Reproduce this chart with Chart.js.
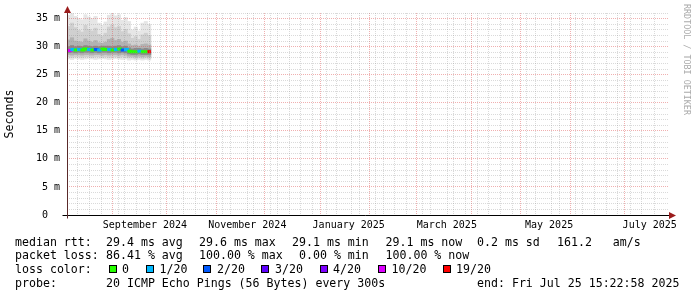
<!DOCTYPE html>
<html>
<head>
<meta charset="utf-8">
<title>smokeping</title>
<script src="https://cdn.jsdelivr.net/npm/chart.js@4.4.1/dist/chart.umd.min.js"></script>
<style>
  body { margin: 0; background: #fff; }
  #wrap { position: relative; width: 697px; height: 297px; overflow: hidden; background: #fff; }
  #graph { position: absolute; left: 0; top: 0; }
  .lg { position: absolute; font: 11.6px "DejaVu Sans Mono", monospace; line-height: 14px; white-space: pre; color: #000; }
  .sw { position: absolute; top: 264.5px; width: 6px; height: 6px; border: 1px solid #000; }
  #wm { position: absolute; left: 682px; top: 4px; writing-mode: vertical-rl; font: 8.4px "DejaVu Sans Mono", monospace; line-height: 9px; color: #aaa; white-space: pre; }
</style>
</head>
<body>
<div id="wrap">
  <canvas id="graph" width="697" height="297"></canvas>

  <div class="lg" style="left:15px;top:234.5px">median rtt:</div>
  <div class="lg" style="left:106px;top:234.5px">29.4 ms avg</div>
  <div class="lg" style="left:199px;top:234.5px">29.6 ms max</div>
  <div class="lg" style="left:292px;top:234.5px">29.1 ms min</div>
  <div class="lg" style="left:385.5px;top:234.5px">29.1 ms now</div>
  <div class="lg" style="left:477px;top:234.5px">0.2 ms sd</div>
  <div class="lg" style="left:557px;top:234.5px">161.2   am/s</div>

  <div class="lg" style="left:15px;top:248px">packet loss:</div>
  <div class="lg" style="left:106px;top:248px">86.41 % avg</div>
  <div class="lg" style="left:199px;top:248px">100.00 % max</div>
  <div class="lg" style="left:299px;top:248px">0.00 % min</div>
  <div class="lg" style="left:385.5px;top:248px">100.00 % now</div>

  <div class="lg" style="left:15px;top:262px">loss color:</div>
  <div id="swatches"></div>

  <div class="lg" style="left:15px;top:276px">probe:</div>
  <div class="lg" style="left:106px;top:276px">20 ICMP Echo Pings (56 Bytes) every 300s</div>
  <div class="lg" style="left:477px;top:276px">end: Fri Jul 25 15:22:58 2025</div>

  <div id="wm">RRDTOOL / TOBI OETIKER</div>
</div>
<script>
// x values are days since 2 Aug 2024; each bin covers 2 days
const binDays = [1, 3, 5, 7, 9, 11, 13, 15, 17, 19, 21, 23, 25, 27, 29, 31, 33, 35, 37, 39, 41, 43, 45, 47, 49];

// smoke bands [low, high] in ms, lightest (outer) to darkest (core)
const smokeOuter = [[27.8,35.6],[27.7,35.9],[27.9,35.4],[27.8,35.0],[27.7,34.8],[27.8,35.7],[27.9,35.3],[27.8,35.0],[27.7,35.4],[27.8,34.2],[27.9,33.8],[27.8,34.4],[27.7,35.6],[27.8,35.9],[27.9,35.5],[27.8,35.7],[27.7,34.7],[27.8,35.2],[27.6,34.5],[27.7,33.0],[27.6,33.5],[27.7,32.8],[27.6,34.2],[27.7,34.5],[27.6,34.0]];
const smokeMid = [[28.2,33.6],[28.1,34.2],[28.2,33.4],[28.2,32.9],[28.1,32.6],[28.2,33.8],[28.2,33.1],[28.1,32.8],[28.2,33.3],[28.2,32.2],[28.1,31.9],[28.2,32.4],[28.1,33.5],[28.2,33.9],[28.2,33.4],[28.1,33.6],[28.2,32.7],[28.1,33.1],[28.0,32.3],[28.0,31.5],[27.9,31.8],[28.0,31.3],[27.9,32.1],[28.0,32.4],[27.9,32.0]];
const smokeInner = [[28.6,31.2],[28.5,31.6],[28.6,31.0],[28.6,30.9],[28.5,30.8],[28.6,31.4],[28.6,31.0],[28.5,30.8],[28.6,31.1],[28.6,30.7],[28.5,30.6],[28.6,30.8],[28.5,31.3],[28.6,31.5],[28.6,31.1],[28.5,31.3],[28.6,30.8],[28.5,31.0],[28.3,30.5],[28.3,30.2],[28.2,30.3],[28.3,30.1],[28.2,30.4],[28.3,30.5],[28.2,30.3]];
const smokeCore = [[28.9,30.0],[29.0,30.2],[28.9,30.0],[29.0,30.1],[28.9,30.0],[29.0,30.2],[29.0,30.1],[28.9,30.0],[29.0,30.1],[28.9,30.0],[29.0,30.1],[29.0,30.1],[28.9,30.1],[29.0,30.0],[29.0,30.1],[28.9,30.2],[29.0,30.0],[28.9,30.1],[28.7,29.8],[28.6,29.6],[28.6,29.7],[28.7,29.7],[28.6,29.6],[28.6,29.7],[28.6,29.6]];

const medianRtt = [29.3, 29.5, 29.4, 29.5, 29.4, 29.6, 29.5, 29.4, 29.5, 29.4, 29.6, 29.5, 29.5, 29.4, 29.5, 29.6, 29.4, 29.5, 29.2, 29.1, 29.1, 29.2, 29.1, 29.1, 29.1];
const lossCount = [10, 1, 0, 1, 0, 0, 1, 0, 2, 1, 0, 0, 1, 0, 1, 0, 2, 1, 0, 0, 0, 1, 0, 0, 19];

const lossLabels = ['0', '1/20', '2/20', '3/20', '4/20', '10/20', '19/20'];
const lossColors = ['#26ff00', '#00b8ff', '#0059ff', '#5e00ff', '#7e00ff', '#dd00ff', '#ff0000'];

const monthStarts = [30, 60, 91, 121, 152, 183, 211, 242, 272, 303, 333];
const labelDays = [46.5, 107.5, 168, 226.5, 287.5, 347.5];
const labelNames = ['September 2024', 'November 2024', 'January 2025', 'March 2025', 'May 2025', 'July 2025'];

const FONT = 'DejaVu Sans Mono';

// legend swatches
const swatchX = [108.5, 145.5, 203, 261, 319.5, 378, 442.5];
const lblX = [122, 159.5, 217, 275, 333, 391.5, 456];
const sw = document.getElementById('swatches');
lossLabels.forEach((l, i) => {
  const b = document.createElement('div');
  b.className = 'sw';
  b.style.left = swatchX[i] + 'px';
  b.style.background = lossColors[i];
  sw.appendChild(b);
  const t = document.createElement('div');
  t.className = 'lg';
  t.style.left = lblX[i] + 'px';
  t.style.top = '262px';
  t.textContent = l;
  sw.appendChild(t);
});

function lossColor(n) {
  if (n >= 19) return lossColors[6];
  if (n >= 10) return lossColors[5];
  if (n >= 4) return lossColors[4];
  return lossColors[n];
}

const band = (arr) => arr.map((v, i) => ({ x: binDays[i], y: v }));

const medianPts = medianRtt.map((v, i) => ({ x: binDays[i] - 1, y: v }));
medianPts.push({ x: binDays[binDays.length - 1] + 1, y: medianRtt[medianRtt.length - 1] });

const labelMap = new Map(labelDays.map((d, i) => [d, labelNames[i]]));
const monthSet = new Set(monthStarts);

const MINOR = 'rgba(143,143,143,0.33)';
const MAJOR = 'rgba(222,80,80,0.45)';
const NONE = 'rgba(0,0,0,0)';

const xGridColor = c => {
  if (!c.tick) return NONE;
  const v = c.tick.value;
  if (labelMap.has(v)) return NONE;
  return monthSet.has(v) ? MAJOR : MINOR;
};
const yGridColor = c => {
  if (!c.tick || c.tick.value === 0) return NONE;
  return c.tick.value % 5 === 0 ? MAJOR : MINOR;
};

const axisArrows = {
  id: 'axisArrows',
  afterDraw(chart) {
    const { ctx, chartArea: a } = chart;
    const x0 = Math.round(a.left) + 0.5, y0 = Math.round(a.bottom) + 0.5;
    ctx.save();
    ctx.lineWidth = 1;
    ctx.strokeStyle = '#000';
    ctx.beginPath();
    ctx.moveTo(x0 - 5, y0); ctx.lineTo(a.right, y0);
    ctx.stroke();
    ctx.strokeStyle = '#5a2a2a';
    ctx.beginPath();
    ctx.moveTo(x0, y0 + 3); ctx.lineTo(x0, a.top);
    ctx.stroke();
    ctx.fillStyle = '#9b1c1c';
    ctx.beginPath();
    ctx.moveTo(a.right + 7, y0); ctx.lineTo(a.right, y0 - 3.5); ctx.lineTo(a.right, y0 + 3.5);
    ctx.fill();
    ctx.beginPath();
    ctx.moveTo(x0, a.top - 7); ctx.lineTo(x0 - 3.5, a.top); ctx.lineTo(x0 + 3.5, a.top);
    ctx.fill();
    ctx.restore();
  }
};

new Chart(document.getElementById('graph'), {
  type: 'bar',
  data: {
    datasets: [
      { type: 'line', data: medianPts, stepped: 'before', borderWidth: 3, pointRadius: 0,
        borderColor: lossColors[0], borderCapStyle: 'butt',
        segment: { borderColor: c => lossColor(lossCount[c.p0DataIndex]) }, order: 0 },
      { data: band(smokeCore), backgroundColor: '#8a8a8a', order: 1 },
      { data: band(smokeInner), backgroundColor: '#b2b2b2', order: 2 },
      { data: band(smokeMid), backgroundColor: '#d0d0d0', order: 3 },
      { data: band(smokeOuter), backgroundColor: '#e6e6e6', order: 4 }
    ]
  },
  options: {
    responsive: false,
    animation: false,
    events: [],
    layout: { padding: { top: 13, right: 28, left: 0, bottom: 0 } },
    datasets: { bar: { grouped: false, barThickness: 3.36, borderWidth: 0 } },
    plugins: { legend: { display: false }, tooltip: { enabled: false } },
    scales: {
      x: {
        type: 'linear', min: 0, max: 359, offset: false,
        afterBuildTicks(scale) {
          const vals = [];
          for (let d = 3; d < 359; d += 7) vals.push(d);
          monthStarts.forEach(d => vals.push(d));
          labelDays.forEach(d => vals.push(d));
          vals.sort((a, b) => a - b);
          scale.ticks = vals.map(v => ({ value: v }));
        },
        afterFit(scale) { scale.height = 82; },
        ticks: {
          autoSkip: false, maxRotation: 0, minRotation: 0, padding: 4,
          color: '#000', font: { family: FONT, size: 10 },
          callback: v => labelMap.get(v) || ''
        },
        grid: { z: 1, drawTicks: false, lineWidth: 1, color: xGridColor },
        border: { display: false, dash: [1, 1] }
      },
      y: {
        min: 0, max: 36,
        afterFit(scale) { scale.width = 67; },
        ticks: {
          stepSize: 1, autoSkip: false, padding: 7,
          color: '#000', font: { family: FONT, size: 10 },
          callback: v => v === 0 ? '0  ' : (v % 5 === 0 ? v + ' m' : '')
        },
        grid: { z: 1, drawTicks: false, lineWidth: 1, color: yGridColor },
        border: { display: false, dash: [1, 1] },
        title: { display: true, text: 'Seconds', color: '#000', font: { family: FONT, size: 11.6 }, padding: { top: 3, bottom: 0 } }
      }
    }
  },
  plugins: [axisArrows]
});
</script>
</body>
</html>
